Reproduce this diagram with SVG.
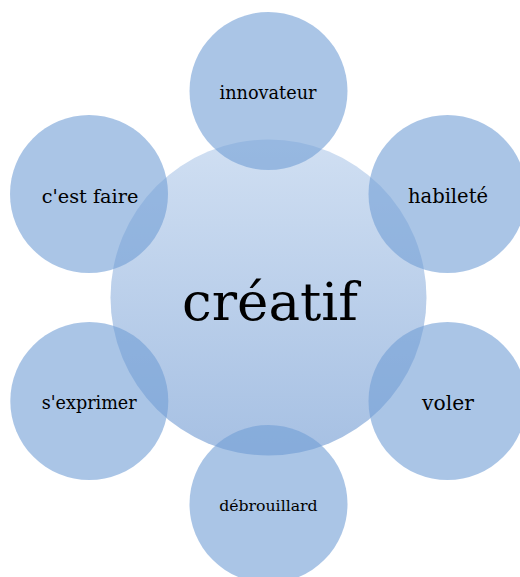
<svg xmlns="http://www.w3.org/2000/svg" width="520" height="577" viewBox="0 0 520 577">
<defs>
<linearGradient id="gc" x1="0" y1="0" x2="0" y2="1">
<stop offset="0" stop-color="#D0DFF2"/>
<stop offset="1" stop-color="#A6C0E3"/>
</linearGradient>
</defs>
<style>
.outer{fill:#719ED5;fill-opacity:0.6;}
.t{font-family:"DejaVu Serif","Liberation Serif",serif;fill:#000;text-anchor:middle;}
</style>
<rect width="520" height="577" fill="#fff"/>
<g id="center">
<circle cx="268.5" cy="297.5" r="158" fill="url(#gc)"/>
<text class="t" x="270" y="320" font-size="53">créatif</text>
</g>
<g id="innovateur">
<circle class="outer" cx="268.5" cy="91" r="79"/>
<text class="t" x="268" y="99" font-size="17.7">innovateur</text>
</g>
<g id="habilete">
<circle class="outer" cx="447.5" cy="194" r="79"/>
<text class="t" x="448" y="202.7" font-size="19.5">habileté</text>
</g>
<g id="voler">
<circle class="outer" cx="447.5" cy="401" r="79"/>
<text class="t" x="448" y="410" font-size="20.3">voler</text>
</g>
<g id="debrouillard">
<circle class="outer" cx="268.5" cy="504" r="79"/>
<text class="t" x="268.4" y="510.7" font-size="15.7">débrouillard</text>
</g>
<g id="sexprimer">
<circle class="outer" cx="89.3" cy="401" r="79"/>
<text class="t" x="89.2" y="409.3" font-size="17.6">s'exprimer</text>
</g>
<g id="cestfaire">
<circle class="outer" cx="89" cy="194" r="79"/>
<text class="t" x="90" y="202.7" font-size="19.3">c'est faire</text>
</g>
</svg>
